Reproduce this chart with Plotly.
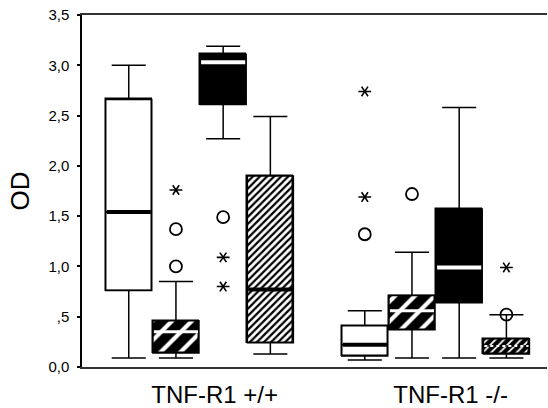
import plotly.graph_objects as go

# ---------------- data ----------------
groups = ["TNF-R1 +/+", "TNF-R1 -/-"]
box_group = [0, 0, 0, 0, 1, 1, 1, 1]
box_slot = [0, 1, 2, 3, 0, 1, 2, 3]

lower_whisker = [0.09, 0.09, 2.27, 0.13, 0.07, 0.09, 0.09, 0.09]
q1_vals = [0.76, 0.14, 2.61, 0.24, 0.11, 0.37, 0.64, 0.13]
median_vals = [1.54, 0.35, 3.03, 0.77, 0.22, 0.56, 0.99, 0.21]
q3_vals = [2.66, 0.46, 3.11, 1.90, 0.41, 0.71, 1.57, 0.28]
upper_whisker = [3.00, 0.85, 3.19, 2.49, 0.56, 1.14, 2.58, 0.52]

circle_box = [1, 1, 2, 4, 5, 7]
circle_vals = [1.37, 1.00, 1.49, 1.32, 1.72, 0.52]
star_box = [1, 2, 2, 4, 4, 7]
star_vals = [1.76, 1.09, 0.80, 2.74, 1.69, 0.99]

y_tick_vals = [0, 0.5, 1.0, 1.5, 2.0, 2.5, 3.0, 3.5]
y_tick_text = ["0,0", ",5", "1,0", "1,5", "2,0", "2,5", "3,0", "3,5"]

# ---------------- styles ----------------
GROUP_STRIDE = 5
BOX_W = 0.975
LABEL_SHIFT = 0.32
FONT = "Liberation Sans, Arial, sans-serif"

styles = [
    dict(bg="white", fg="white", shape="", size=8, sol=0.3, mcol="black", mw=4, dash="solid"),
    dict(bg="black", fg="white", shape="/", size=14, sol=0.3, mcol="white", mw=3, dash="solid"),
    dict(bg="black", fg="black", shape="", size=8, sol=0.3, mcol="white", mw=4, dash="solid"),
    dict(bg="white", fg="black", shape="/", size=5, sol=0.45, mcol="black", mw=4, dash="solid"),
]
style_b8 = dict(bg="black", fg="white", shape="/", size=6, sol=0.3, mcol="white", mw=2, dash="dot")

positions = [g * GROUP_STRIDE + s for g, s in zip(box_group, box_slot)]

fig = go.Figure()

# box bodies with fills / hatching
for i, pos in enumerate(positions):
    st = style_b8 if i == 7 else styles[box_slot[i]]
    fig.add_trace(go.Bar(
        x=[pos], y=[q3_vals[i] - q1_vals[i]], base=[q1_vals[i]], width=BOX_W,
        marker=dict(
            color=st["bg"],
            line=dict(color="black", width=1.5),
            pattern=dict(shape=st["shape"], bgcolor=st["bg"], fgcolor=st["fg"], fgopacity=1,
                         size=st["size"], solidity=st["sol"], fillmode="overlay"),
        ),
        showlegend=False, hoverinfo="skip",
    ))

# whiskers and outlines
fig.add_trace(go.Box(
    x=positions, q1=q1_vals, median=median_vals, q3=q3_vals,
    lowerfence=lower_whisker, upperfence=upper_whisker,
    width=BOX_W, whiskerwidth=0.74, boxpoints=False,
    fillcolor="rgba(0,0,0,0)", line=dict(color="black", width=1.5),
    showlegend=False, hoverinfo="skip",
))

# median lines
for i, pos in enumerate(positions):
    st = style_b8 if i == 7 else styles[box_slot[i]]
    fig.add_trace(go.Scatter(
        x=[pos - BOX_W / 2 + 0.02, pos + BOX_W / 2 - 0.02], y=[median_vals[i], median_vals[i]],
        mode="lines", line=dict(color=st["mcol"], width=st["mw"], dash=st["dash"]),
        showlegend=False, hoverinfo="skip",
    ))

# outliers
fig.add_trace(go.Scatter(
    x=[positions[b] for b in circle_box], y=circle_vals, mode="markers",
    marker=dict(symbol="circle-open", size=12, color="black", line=dict(width=1.8)),
    showlegend=False, hoverinfo="skip",
))
for sym in ["y-up-open", "y-down-open"]:
    fig.add_trace(go.Scatter(
        x=[positions[b] for b in star_box], y=star_vals, mode="markers",
        marker=dict(symbol=sym, size=8, angle=90, color="black", line=dict(width=1.6, color="black")),
        showlegend=False, hoverinfo="skip",
    ))

group_centers = [g * GROUP_STRIDE + 1.5 + LABEL_SHIFT for g in range(len(groups))]

fig.update_layout(
    width=548, height=408,
    margin=dict(l=82, r=1, t=15, b=41),
    paper_bgcolor="white", plot_bgcolor="white",
    barmode="overlay", bargap=0,
    font=dict(family=FONT, color="black"),
    xaxis=dict(
        range=[-0.99, 8.86], tickvals=group_centers, ticktext=groups,
        showgrid=False, zeroline=False, ticks="", automargin=False,
        showline=True, linecolor="#333", linewidth=1.5, mirror=True,
        tickfont=dict(size=24, family=FONT, color="black"),
        ticklabelstandoff=5,
    ),
    yaxis=dict(
        range=[0, 3.5], tickvals=y_tick_vals, ticktext=y_tick_text,
        showgrid=False, zeroline=False, automargin=False,
        showline=True, linecolor="black", linewidth=1.5,
        ticks="outside", ticklen=3, tickwidth=2, tickcolor="black",
        tickfont=dict(size=15, family=FONT, color="black"),
        ticklabelstandoff=5,
        title=dict(text="OD", font=dict(size=26, family=FONT, color="black"), standoff=11),
    ),
)

fig.write_html(
    "out.html",
    config={"displayModeBar": False},
    post_script="document.body.style.margin='0';document.body.style.overflow='hidden';",
)
